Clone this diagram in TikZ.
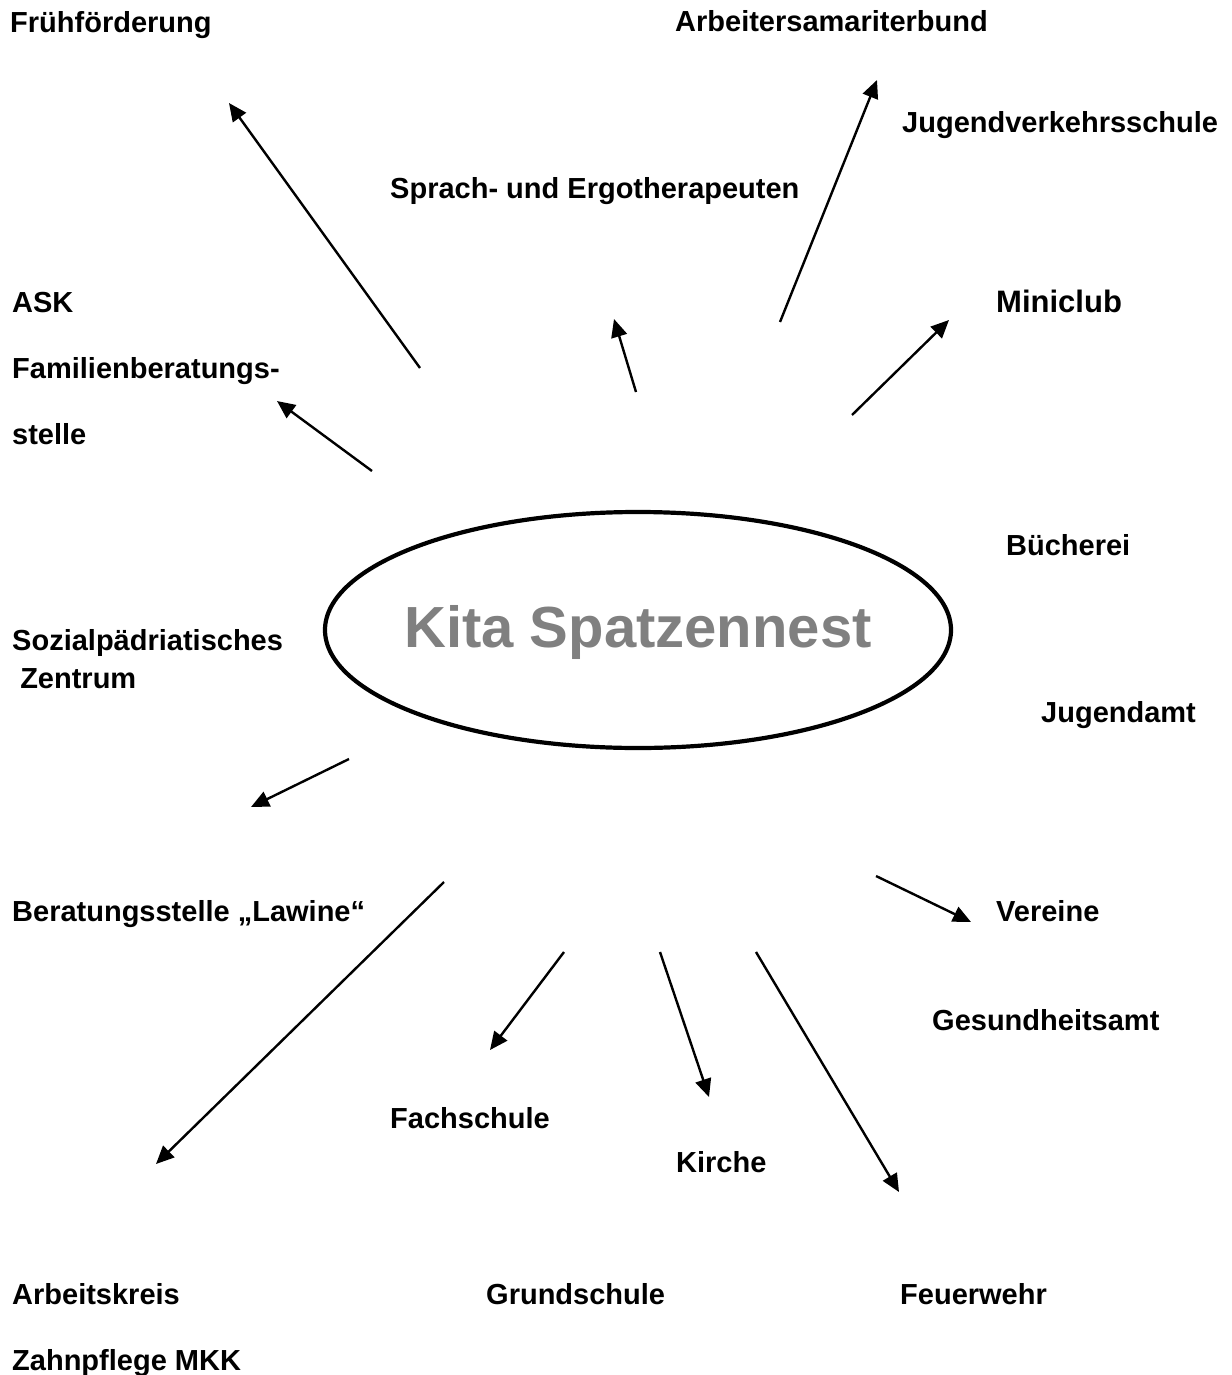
\documentclass[tikz,border=0pt]{standalone}
\usepackage{fontspec}
\setmainfont{Liberation Sans}
\usetikzlibrary{arrows.meta}
\begin{document}
\begin{tikzpicture}[x=1pt,y=-1pt,
  lbl/.style={anchor=base west,inner sep=0pt,font=\fontsize{29}{34}\selectfont\bfseries},
  conn/.style={line width=2.4pt,-{Triangle[length=18pt,width=16pt]}}]
\useasboundingbox (0,0) rectangle (1231,1375);
\draw[line width=4.2pt] (638,630) ellipse [x radius=313, y radius=118];
\node[anchor=base,inner sep=0pt,text=black!50,font=\fontsize{58}{66}\selectfont\bfseries] (kita) at (638,647) {Kita Spatzennest};

\node[lbl] (fruh) at (10,33) {Frühförderung};
\node[lbl] (asb) at (675,32) {Arbeitersamariterbund};
\node[lbl] (jvs) at (902,133) {Jugendverkehrsschule};
\node[lbl] (spr) at (390,199) {Sprach- und Ergotherapeuten};
\node[lbl,font=\fontsize{31}{36}\selectfont\bfseries] (mini) at (996,312) {Miniclub};
\node[lbl] (ask) at (12,312) {ASK};
\node[lbl] (fam1) at (12,378) {Familienberatungs-};
\node[lbl] (fam2) at (12,444) {stelle};
\node[lbl] (bue) at (1006,555) {Bücherei};
\node[lbl] (soz1) at (12,650) {Sozialpädriatisches};
\node[lbl] (soz2) at (12,688) {\ Zentrum};
\node[lbl] (jamt) at (1041,722) {Jugendamt};
\node[lbl] (law) at (12,921) {Beratungsstelle „Lawine“};
\node[lbl] (ver) at (996,921) {Vereine};
\node[lbl] (ges) at (932,1030) {Gesundheitsamt};
\node[lbl] (fach) at (390,1128) {Fachschule};
\node[lbl] (kir) at (676,1172) {Kirche};
\node[lbl] (ak) at (12,1304) {Arbeitskreis};
\node[lbl] (gs) at (486,1304) {Grundschule};
\node[lbl] (fw) at (900,1304) {Feuerwehr};
\node[lbl] (zmkk) at (12,1370) {Zahnpflege MKK};

\coordinate (a1s) at (420,368); \coordinate (a1e) at (229,103);
\coordinate (a2s) at (372,471); \coordinate (a2e) at (277,401);
\coordinate (a3s) at (636,392); \coordinate (a3e) at (614,319);
\coordinate (a4s) at (780,322); \coordinate (a4e) at (877,80);
\coordinate (a5s) at (852,415); \coordinate (a5e) at (949,320);
\coordinate (a6s) at (349,759); \coordinate (a6e) at (251,807);
\coordinate (a7s) at (876,876); \coordinate (a7e) at (971,922);
\coordinate (a8s) at (444,882); \coordinate (a8e) at (156,1164);
\coordinate (a9s) at (564,952); \coordinate (a9e) at (490,1050);
\coordinate (a10s) at (660,952); \coordinate (a10e) at (709,1097);
\coordinate (a11s) at (756,952); \coordinate (a11e) at (899,1192);
\foreach \i in {1,...,11} {\draw[conn] (a\i s) -- (a\i e);}
\end{tikzpicture}
\end{document}
